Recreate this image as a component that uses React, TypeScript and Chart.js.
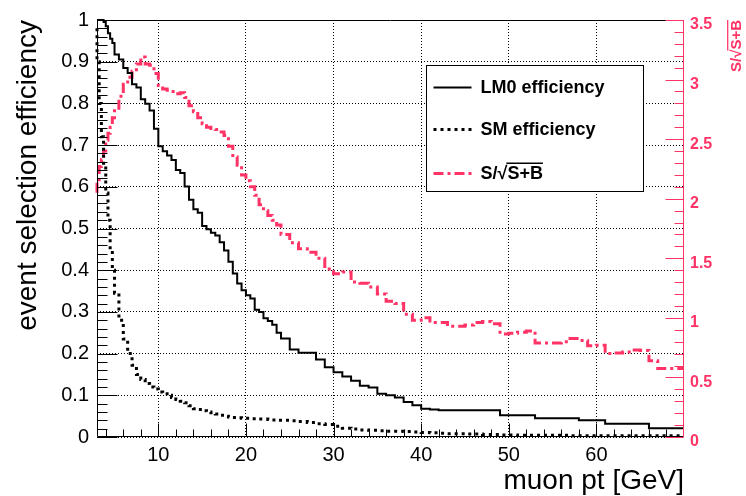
import React, { useEffect, useRef } from 'react';
import { Chart, registerables } from 'chart.js';

Chart.register(...registerables);

const PINK = '#ff3366';
const FONT = '"Liberation Sans", Arial, Helvetica, sans-serif';

// ---- axes ----
const xMin = 3;
const xMax = 70;
const xTicks = [10, 20, 30, 40, 50, 60];
const yTicks = [0, 0.1, 0.2, 0.3, 0.4, 0.5, 0.6, 0.7, 0.8, 0.9, 1];
const y1Ticks = [0, 0.5, 1, 1.5, 2, 2.5, 3, 3.5];
const xTitle = 'muon pt [GeV]';
const yTitle = 'event selection efficiency';
const seriesNames = ['LM0 efficiency', 'SM efficiency', 'S/√S+B'];

// ---- histogram bin lower edges (GeV); last bin ends at xMax ----
const binEdges = [
  3, 3.25, 3.5, 3.75, 4, 4.25, 4.5, 4.75,
  5, 5.5, 6, 6.5, 7, 7.5, 8, 8.5, 9, 9.5, 10, 10.5, 11, 11.5, 12, 12.5, 13, 13.5,
  14, 14.5, 15, 15.5, 16, 16.5, 17, 17.5, 18, 18.5, 19, 19.5, 20, 20.5, 21, 21.5,
  22, 22.5, 23, 23.5,
  24, 25, 26, 27, 28, 29, 30, 31, 32, 33, 34, 35, 36, 37, 38, 39, 40, 41, 42, 43,
  44, 45, 46, 47, 48, 49, 50, 51, 52, 53, 54, 55, 56, 57, 58, 59, 60, 61, 62, 63,
  64, 65, 66, 67, 68, 69,
];

const lm0Eff = [
  1.0, 1.0, 1.0, 1.0, 0.995, 0.985, 0.968, 0.955,
  0.945, 0.917, 0.905, 0.885, 0.873, 0.846, 0.838, 0.81, 0.799, 0.783, 0.739, 0.697, 0.685, 0.675, 0.664, 0.64, 0.633, 0.601,
  0.569, 0.546, 0.538, 0.506, 0.498, 0.49, 0.483, 0.467, 0.447, 0.42, 0.392, 0.368, 0.352, 0.34, 0.332, 0.305,
  0.3, 0.285, 0.278, 0.269,
  0.25, 0.236, 0.21, 0.202, 0.202, 0.186, 0.167, 0.155, 0.145, 0.135, 0.123, 0.119, 0.104, 0.1, 0.095, 0.084, 0.076, 0.068, 0.066, 0.064,
  0.064, 0.064, 0.064, 0.064, 0.064, 0.064, 0.052, 0.052, 0.052, 0.052, 0.045, 0.045, 0.045, 0.045, 0.045, 0.04, 0.04, 0.04, 0.032, 0.032,
  0.032, 0.032, 0.032, 0.021, 0.021, 0.021,
];

const smEff = [
  0.98, 0.9, 0.8, 0.72, 0.65, 0.585, 0.52, 0.45,
  0.4, 0.345, 0.28, 0.235, 0.2, 0.172, 0.15, 0.138, 0.128, 0.12, 0.115, 0.108, 0.104, 0.1, 0.095, 0.09, 0.086, 0.082,
  0.075, 0.068, 0.066, 0.063, 0.06, 0.058, 0.055, 0.052, 0.05, 0.048, 0.047, 0.046, 0.045, 0.045, 0.044, 0.044,
  0.043, 0.043, 0.042, 0.041,
  0.04, 0.04, 0.039, 0.037, 0.035, 0.032, 0.03, 0.026, 0.021, 0.019, 0.017, 0.016, 0.015, 0.014, 0.014, 0.013, 0.012, 0.011, 0.01, 0.009,
  0.008, 0.008, 0.007, 0.007, 0.006, 0.006, 0.005, 0.005, 0.004, 0.004, 0.004, 0.004, 0.004, 0.004, 0.003, 0.003, 0.003, 0.003, 0.003, 0.003,
  0.003, 0.003, 0.003, 0.003, 0.003, 0.003,
];

const significance = [
  2.05, 2.16, 2.27, 2.33, 2.4, 2.49, 2.55, 2.6,
  2.68, 2.76, 2.86, 2.96, 3.02, 3.07, 3.13, 3.19, 3.13, 3.12, 3.05, 2.95, 2.92, 2.91, 2.9, 2.88, 2.89, 2.85,
  2.78, 2.73, 2.68, 2.63, 2.6, 2.59, 2.58, 2.56, 2.53, 2.44, 2.35, 2.28, 2.2, 2.15, 2.1, 2.03,
  1.95, 1.9, 1.86, 1.82,
  1.78, 1.7, 1.63, 1.58, 1.55, 1.5, 1.41, 1.37, 1.385, 1.3, 1.29, 1.26, 1.2, 1.14, 1.12, 1.03, 0.98, 1.0, 0.96, 0.96,
  0.93, 0.93, 0.94, 0.96, 0.97, 0.95, 0.865, 0.87, 0.88, 0.89, 0.79, 0.79, 0.79, 0.8, 0.827, 0.81, 0.765, 0.77, 0.7, 0.705,
  0.713, 0.73, 0.725, 0.64, 0.575, 0.575,
];

function toSteps(vals: number[]) {
  const pts = binEdges.map((e, i) => ({ x: e, y: vals[i] }));
  pts.push({ x: xMax, y: vals[vals.length - 1] });
  return pts;
}

function drawSignifLabel(ctx: CanvasRenderingContext2D, x: number, y: number, size: number, color: string, measureOnly = false): number {
  ctx.font = `bold ${size}px ${FONT}`;
  const a = 'S/';
  const r = '√';
  const b = 'S+B';
  const wa = ctx.measureText(a).width;
  const wr = ctx.measureText(r).width;
  const wb = ctx.measureText(b).width;
  const total = wa + wr + wb;
  if (measureOnly) return total;
  ctx.fillStyle = color;
  ctx.strokeStyle = color;
  ctx.textAlign = 'left';
  ctx.textBaseline = 'middle';
  ctx.fillText(a, x, y);
  ctx.fillText(r, x + wa, y);
  ctx.fillText(b, x + wa + wr, y);
  ctx.setLineDash([]);
  ctx.lineWidth = Math.max(1, size / 12);
  ctx.beginPath();
  ctx.moveTo(x + wa + wr - 1, y - size * 0.62);
  ctx.lineTo(x + total, y - size * 0.62);
  ctx.stroke();
  return total;
}

const rootAxesPlugin = {
  id: 'rootAxes',
  afterDatasetsDraw(chart: any) {
    const { ctx, chartArea: ca, scales } = chart;
    const x = scales.x;
    const y = scales.y;
    const y1 = scales.y1;
    const L = Math.round(ca.left) + 0.5;
    const R = Math.round(ca.right) - 0.5;
    const T = Math.round(ca.top) + 0.5;
    const B = Math.round(ca.bottom) - 0.5;
    ctx.save();
    ctx.setLineDash([]);
    ctx.lineWidth = 1;
    ctx.strokeStyle = '#000';
    ctx.beginPath();
    ctx.moveTo(L, T);
    ctx.lineTo(R, T);
    ctx.moveTo(L, T);
    ctx.lineTo(L, B);
    ctx.lineTo(R, B);
    // left axis: major every 0.1, minor every 0.02
    for (let i = 0; i <= 50; i++) {
      const py = Math.round(y.getPixelForValue(i * 0.02)) + 0.5;
      const len = i % 5 === 0 ? 20 : 10;
      ctx.moveTo(L, py);
      ctx.lineTo(L + len, py);
    }
    // bottom axis: major every 10, minor every 2
    for (let v = 4; v < xMax; v += 2) {
      const px = Math.round(x.getPixelForValue(v)) + 0.5;
      const len = v % 10 === 0 ? 13 : 7;
      ctx.moveTo(px, B);
      ctx.lineTo(px, B - len);
    }
    ctx.stroke();
    // right pink axis: major every 0.5, minor every 0.1
    ctx.strokeStyle = PINK;
    ctx.beginPath();
    ctx.moveTo(R, T - 0.5);
    ctx.lineTo(R, B + 0.5);
    for (let i = 0; i <= 35; i++) {
      const py = Math.round(y1.getPixelForValue(i * 0.1)) + 0.5;
      const len = i % 5 === 0 ? 18 : 9;
      ctx.moveTo(R, py);
      ctx.lineTo(R - len, py);
    }
    ctx.stroke();
    ctx.restore();
  },
  afterDraw(chart: any) {
    const { ctx, chartArea: ca } = chart;
    ctx.save();
    // legend box
    const bx = ca.left + 329.5;
    const by = ca.top + 45.5;
    const bw = 217;
    const bh = 126;
    ctx.fillStyle = '#fff';
    ctx.fillRect(bx, by, bw, bh);
    ctx.setLineDash([]);
    ctx.lineWidth = 1;
    ctx.strokeStyle = '#000';
    ctx.strokeRect(bx, by, bw, bh);
    const rowY = [by + 21, by + 63, by + 107];
    chart.data.datasets.forEach((ds: any, i: number) => {
      const ry = Math.round(rowY[i]) + 0.5;
      ctx.save();
      ctx.strokeStyle = ds.borderColor;
      ctx.lineWidth = ds.borderWidth;
      ctx.setLineDash(ds.borderDash || []);
      ctx.beginPath();
      ctx.moveTo(bx + 7, ry);
      ctx.lineTo(bx + 45, ry);
      ctx.stroke();
      ctx.restore();
      if (i === 2) {
        drawSignifLabel(ctx, bx + 54, ry + 1, 18, '#000');
      } else {
        ctx.fillStyle = '#000';
        ctx.font = `bold 18px ${FONT}`;
        ctx.textAlign = 'left';
        ctx.textBaseline = 'middle';
        ctx.fillText(ds.label, bx + 54, ry + 1);
      }
    });
    // right axis title (rotated, aligned to the top end)
    ctx.save();
    ctx.translate(ca.right + 53, ca.top);
    ctx.rotate(-Math.PI / 2);
    const w = drawSignifLabel(ctx, 0, 0, 15, PINK, true);
    drawSignifLabel(ctx, -w, 0, 15, PINK);
    ctx.restore();
    ctx.restore();
  },
};

export default function App() {
  const canvasRef = useRef<HTMLCanvasElement | null>(null);

  useEffect(() => {
    document.body.style.margin = '0';
    const canvas = canvasRef.current;
    if (!canvas) return;
    const chart = new Chart(canvas, {
      type: 'line',
      data: {
        datasets: [
          {
            label: seriesNames[0],
            data: toSteps(lm0Eff),
            borderColor: '#000',
            borderWidth: 2,
            borderDash: [],
            stepped: 'after',
            pointRadius: 0,
            yAxisID: 'y',
            clip: 4,
          },
          {
            label: seriesNames[1],
            data: toSteps(smEff),
            borderColor: '#000',
            borderWidth: 3,
            borderDash: [3, 4],
            stepped: 'after',
            pointRadius: 0,
            yAxisID: 'y',
            clip: 4,
          },
          {
            label: seriesNames[2],
            data: toSteps(significance),
            borderColor: PINK,
            borderWidth: 3,
            borderDash: [10, 4, 3, 4],
            stepped: 'after',
            pointRadius: 0,
            yAxisID: 'y1',
            clip: 4,
          },
        ] as any,
      },
      options: {
        animation: false,
        responsive: false,
        devicePixelRatio: 1,
        events: [],
        layout: { padding: { top: 15, left: 0, right: 0, bottom: 0 } },
        plugins: {
          legend: { display: false },
          tooltip: { enabled: false },
        },
        scales: {
          x: {
            type: 'linear',
            position: 'bottom',
            min: xMin,
            max: xMax,
            afterBuildTicks: (s: any) => {
              s.ticks = xTicks.map((v) => ({ value: v }));
            },
            afterFit: (s: any) => {
              s.height = 59;
            },
            grid: { color: '#000', lineWidth: 1, drawTicks: false },
            border: { display: false, dash: [1, 2] },
            ticks: {
              autoSkip: false,
              maxRotation: 0,
              padding: 6,
              color: '#000',
              font: { family: FONT, size: 20 },
              callback: (v: any) => String(v),
            },
            title: {
              display: true,
              text: xTitle,
              align: 'end',
              color: '#000',
              font: { family: FONT, size: 28, lineHeight: 1 },
              padding: { top: 0, bottom: 1 },
            },
          },
          y: {
            type: 'linear',
            position: 'left',
            min: 0,
            max: 1,
            afterBuildTicks: (s: any) => {
              s.ticks = yTicks.map((v) => ({ value: v }));
            },
            afterFit: (s: any) => {
              s.width = 97;
            },
            grid: { color: '#000', lineWidth: 1, drawTicks: false },
            border: { display: false, dash: [1, 2] },
            ticks: {
              autoSkip: false,
              padding: 8,
              color: '#000',
              font: { family: FONT, size: 20 },
              callback: (v: any) => String(v),
            },
            title: {
              display: true,
              text: yTitle,
              align: 'end',
              color: '#000',
              font: { family: FONT, size: 28, lineHeight: 1 },
              padding: { top: 14, bottom: 0 },
            },
          },
          y1: {
            type: 'linear',
            position: 'right',
            min: 0,
            max: 3.5,
            afterBuildTicks: (s: any) => {
              s.ticks = y1Ticks.map((v) => ({ value: v }));
            },
            afterFit: (s: any) => {
              s.width = 62;
            },
            grid: { display: false, drawTicks: false },
            border: { display: false },
            ticks: {
              autoSkip: false,
              padding: 6,
              labelOffset: 5,
              color: PINK,
              font: { family: FONT, size: 16, weight: 'bold' },
              callback: (v: any) => String(v),
            },
          },
        },
      } as any,
      plugins: [rootAxesPlugin],
    });
    return () => chart.destroy();
  }, []);

  return (
    <div style={{ position: 'absolute', left: 0, top: 0, width: 746, height: 496, background: '#fff' }}>
      <canvas ref={canvasRef} width={746} height={496} style={{ display: 'block' }} />
    </div>
  );
}
